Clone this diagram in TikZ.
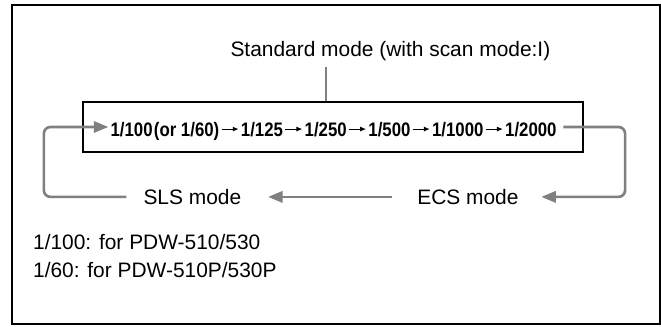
\documentclass[tikz,border=0pt]{standalone}
\usepackage{fontspec}
\setmainfont{Liberation Sans}
\newfontfamily\rowfont[FakeStretch=0.86]{Liberation Sans}
\usetikzlibrary{positioning,arrows.meta}
\definecolor{loopgray}{RGB}{128,128,128}

\begin{document}
\begin{tikzpicture}[
    lbl/.style={font=\fontsize{15.75}{18}\selectfont, inner sep=0pt},
    modelbl/.style={lbl, text height=11.3pt, text depth=0pt},
    val/.style={font=\rowfont\bfseries\fontsize{14.7}{17}\selectfont, inner sep=0pt, text height=10.5pt, text depth=0pt},
    tinyarrow/.style={-{Latex[length=4.5pt,width=3.8pt]}, line width=0.8pt, shorten >=1.5pt, shorten <=1.5pt},
    loopline/.style={draw=loopgray, line width=2pt, rounded corners=5pt},
    looparrow/.style={loopline, -{Triangle[length=11pt,width=8.5pt]}}
]
    \useasboundingbox (0,0) rectangle (17.49,8.65);
    % Outer frame
    \draw[line width=1.5pt] (0.32,0.07) rectangle (17.46,8.52);
    % Standard mode box
    \node[draw, line width=1.2pt, minimum width=13.23cm, minimum height=1.32cm, inner sep=0pt] (box) at (8.81,5.29) {};
    \node[lbl, anchor=base] (std) at (10.33,7.15) {Standard mode (with scan mode:I)};
    \coordinate (tick) at (8.63,6.88);
    \draw[loopline] (tick) -- (tick |- box.north);
    % Shutter values
    \node[val, anchor=base west] (v1) at (2.92,5.05) {1/100\kern1pt(or 1/60)};
    \node[val, base right=0.56cm of v1] (v2) {1/125};
    \node[val, base right=0.56cm of v2] (v3) {1/250};
    \node[val, base right=0.56cm of v3] (v4) {1/500};
    \node[val, base right=0.56cm of v4] (v5) {1/1000};
    \node[val, base right=0.56cm of v5] (v6) {1/2000};
    \foreach \a/\b in {v1/v2,v2/v3,v3/v4,v4/v5,v5/v6}
        \draw[tinyarrow] (\a) -- (\b);
    % Modes
    \node[modelbl] (sls) at (5.09,3.44) {SLS mode};
    \node[modelbl] (ecs) at (12.38,3.44) {ECS mode};
    \coordinate (lft) at (1.16,0);
    \coordinate (rgt) at (16.54,0);
    \draw[looparrow, shorten <=5pt, shorten >=17pt] (box -| v6.east) -- (rgt |- box) -- (rgt |- ecs) -- (ecs.east);
    \draw[looparrow, shorten <=19pt, shorten >=20pt] (ecs.west) -- (sls.east);
    \draw[looparrow, shorten <=12.75pt, shorten >=1.5pt] (sls.west) -- (lft |- sls) -- (lft |- box) -- (box -| v1.west);
    % Notes
    \node[lbl, anchor=base west] (n1) at (0.87,2.04) {1/100: for PDW-510/530};
    \node[lbl, anchor=base west] (n2) at (0.87,1.30) {1/60: for PDW-510P/530P};
\end{tikzpicture}
\end{document}
